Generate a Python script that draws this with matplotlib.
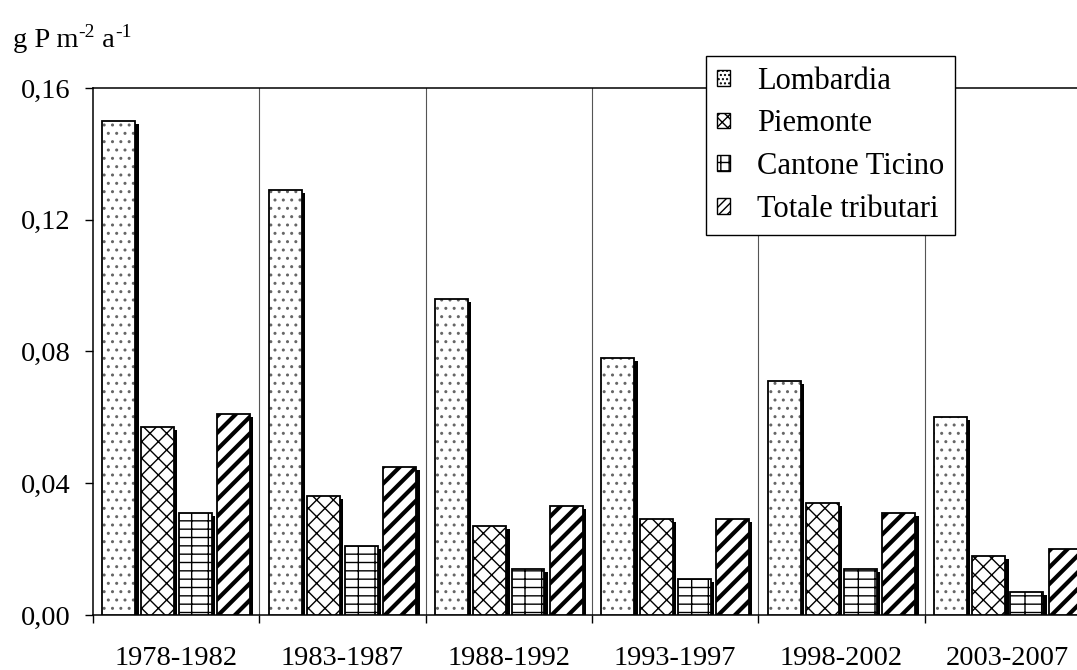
import numpy as np
import matplotlib
matplotlib.use('Agg')
import matplotlib.pyplot as plt

plt.rcParams['font.family'] = ['Liberation Serif', 'DejaVu Serif']

periodi = ['1978-1982', '1983-1987', '1988-1992', '1993-1997', '1998-2002', '2003-2007']
lombardia = [0.150, 0.129, 0.096, 0.078, 0.071, 0.060]
piemonte = [0.057, 0.036, 0.027, 0.029, 0.034, 0.018]
ticino = [0.031, 0.021, 0.014, 0.011, 0.014, 0.007]
totale = [0.061, 0.045, 0.033, 0.029, 0.031, 0.020]
serie_nomi = ['Lombardia', 'Piemonte', 'Cantone Ticino', 'Totale tributari']
y_ticks = [0.0, 0.04, 0.08, 0.12, 0.16]
y_labels = ['0,00', '0,04', '0,08', '0,12', '0,16']

serie = [lombardia, piemonte, ticino, totale]
tratteggi = ['..', 'xx', '--|', '//']
col_tratt = ['#666666', 'black', 'black', 'black']
spost = [-0.345, -0.115, 0.115, 0.345]
larg = 0.198

W, H = 1077, 670
fig = plt.figure(figsize=(W / 100, H / 100), dpi=100)
ax = fig.add_axes([0.0864, 0.0821, 0.9266, 0.7866])

x = np.arange(len(periodi))
for k in range(4):
    v = np.array(serie[k])
    # ombra nera sotto ogni barra
    ax.bar(x + spost[k] + 0.02, v - 0.0009, larg, color='black', zorder=2)
    b = ax.bar(x + spost[k], v, larg, color='white', edgecolor=col_tratt[k],
               linewidth=0, hatch=tratteggi[k], zorder=3)
    if k == 3:
        for p in b.patches:
            if hasattr(p, 'set_hatch_linewidth'):
                p.set_hatch_linewidth(3.0)
    # contorno nero
    ax.bar(x + spost[k], v, larg, fill=False, edgecolor='black', linewidth=1.3, zorder=4)

for i in range(len(periodi) - 1):
    ax.axvline(i + 0.5, color='#555555', lw=0.8, zorder=1)

ax.set_xlim(-0.5, len(periodi) - 0.5)
ax.set_ylim(0, 0.16)
ax.set_yticks(y_ticks)
ax.set_yticklabels(y_labels)
ax.set_xticks(x)
ax.set_xticklabels(periodi)
ax.set_xticks(np.arange(-0.5, len(periodi)), minor=True)
ax.tick_params(axis='x', which='major', length=0, pad=22, labelsize=20.5)
ax.tick_params(axis='x', which='minor', length=6, width=1)
ax.tick_params(axis='y', length=6, width=1, pad=10, labelsize=20.5)

ax.spines['right'].set_visible(False)
for s in ['left', 'bottom', 'top']:
    ax.spines[s].set_linewidth(1.1)

# unità di misura con esponenti, pezzo per pezzo sulla stessa linea di base
fig.canvas.draw()
rend = fig.canvas.get_renderer()
base = 1 - 47 / H
xpos = 13 / W
pezzi = [('g P m', 20.5, 0), ('-2', 14, 10), (' a', 20.5, 0), ('-1', 14, 10)]
for testo, fs, alto in pezzi:
    t = fig.text(xpos, base + alto / H, testo, fontsize=fs, va='baseline')
    bb = t.get_window_extent(rend)
    xpos = bb.x1 / W

# quadratini della legenda con tratteggio più fitto
maniglie = []
for h, lw in zip(['....', 'xxx', '++', '////'], [1, 1, 1, 2.5]):
    r = plt.Rectangle((0, 0), 1, 1, facecolor='white', edgecolor='black', hatch=h, lw=1)
    if hasattr(r, 'set_hatch_linewidth'):
        r.set_hatch_linewidth(lw)
    maniglie.append(r)

leg = ax.legend(handles=maniglie, labels=serie_nomi,
                loc='upper left', bbox_to_anchor=(0.6555, 0.9164),
                bbox_transform=fig.transFigure, fontsize=22, frameon=True,
                fancybox=False, edgecolor='black', framealpha=1,
                handlelength=0.42, handleheight=0.42, handletextpad=0.9,
                labelspacing=0.45, borderpad=0.35, borderaxespad=0)
leg.get_frame().set_linewidth(1.0)
leg.set_zorder(10)

fig.savefig('out.png', dpi=100)
